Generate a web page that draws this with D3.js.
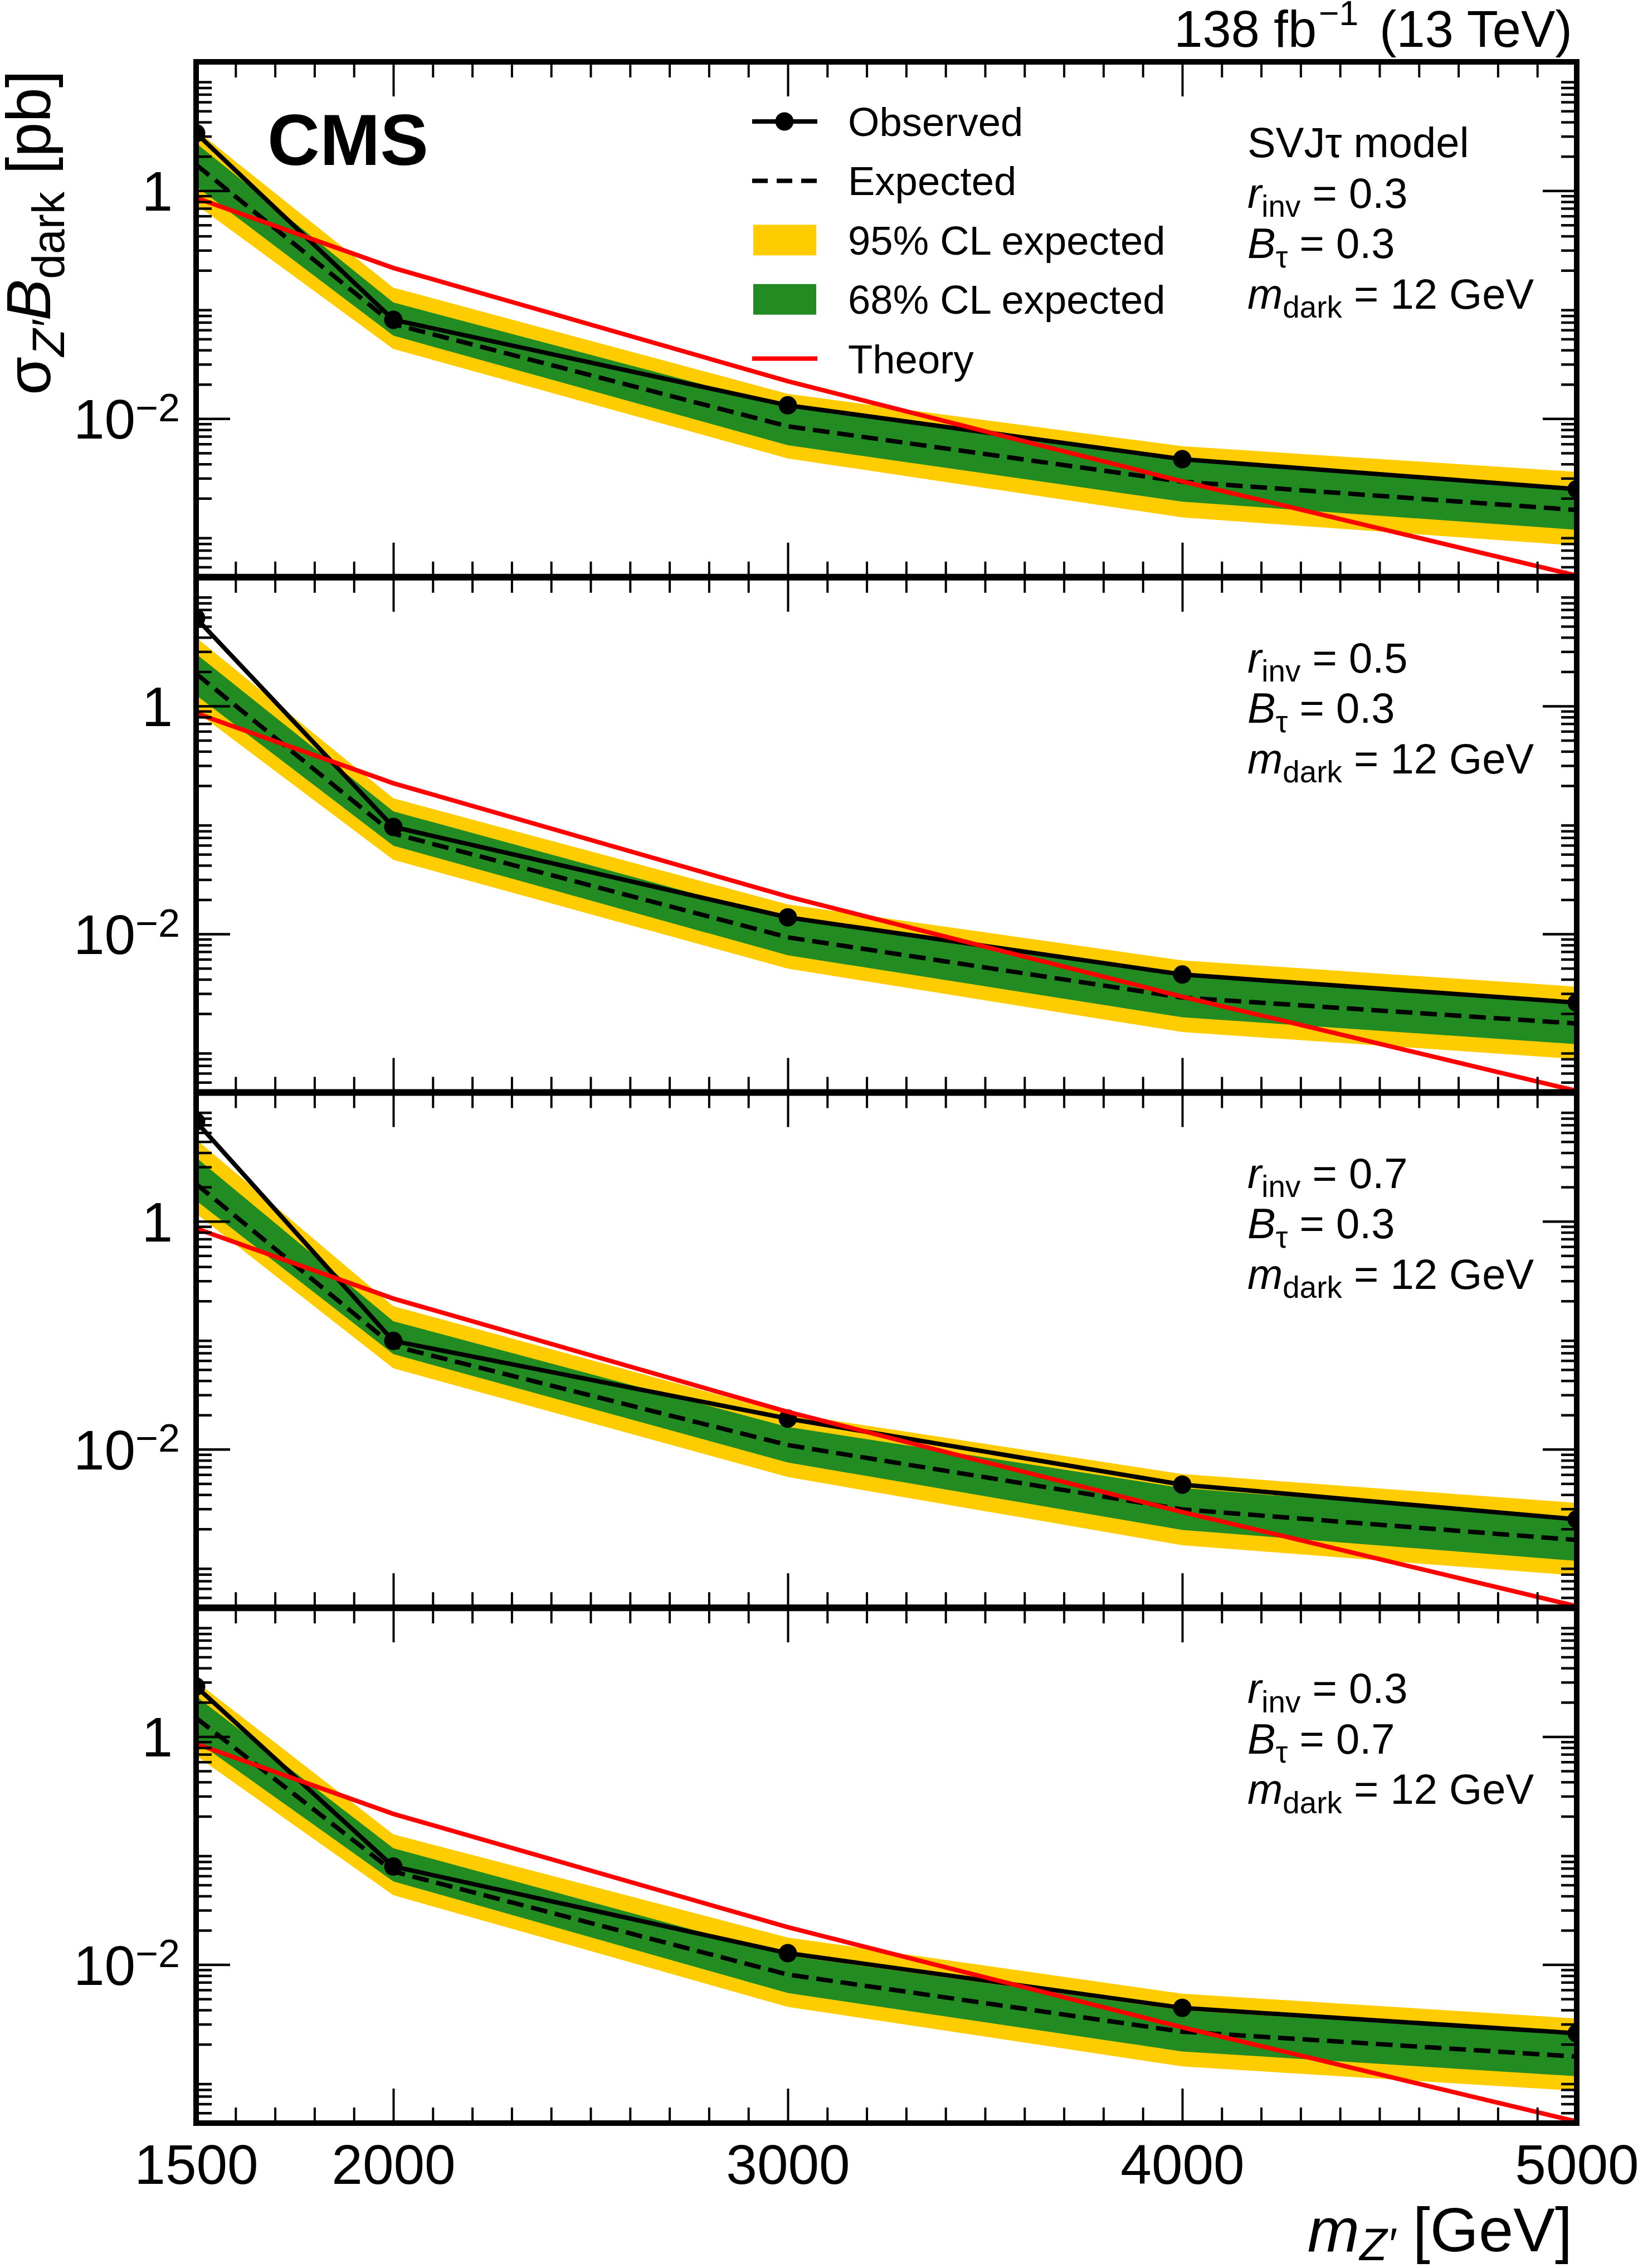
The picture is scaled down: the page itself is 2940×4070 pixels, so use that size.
<!DOCTYPE html>
<html>
<head>
<meta charset="utf-8">
<script src="https://cdn.jsdelivr.net/npm/d3@7"></script>
<style>
  body { margin: 0; background: #fff; }
  svg { display: block; }
</style>
</head>
<body>
<div id="chart"></div>
<script>
// Z' mass points [GeV]
const masses = [1500, 2000, 3000, 4000, 5000];

// theory cross section [pb], same curve in every panel
const theory = [0.865, 0.21, 0.0213, 0.00282, 0.00042];

// one row per panel, top to bottom
const observed = [
  [3.2, 0.0737, 0.0131, 0.00441, 0.00241],
  [5.9, 0.087, 0.014, 0.00441, 0.0025],
  [7.5, 0.0893, 0.0186, 0.0049, 0.00243],
  [2.75, 0.0726, 0.0126, 0.00417, 0.0025]
];
const expected = [
  [1.69, 0.0676, 0.00857, 0.0028, 0.00158],
  [1.92, 0.076, 0.00935, 0.00277, 0.00164],
  [2.13, 0.0807, 0.0109, 0.00297, 0.0016],
  [1.46, 0.0657, 0.00818, 0.00258, 0.00156]
];
const band68Lo = [
  [1.09, 0.0535, 0.00585, 0.00187, 0.00106],
  [1.245, 0.0595, 0.0065, 0.00186, 0.00108],
  [1.52, 0.0684, 0.00766, 0.00196, 0.00105],
  [0.917, 0.0537, 0.00563, 0.00173, 0.00105]
];
const band68Hi = [
  [2.61, 0.1045, 0.01265, 0.00424, 0.00245],
  [2.86, 0.119, 0.0135, 0.00427, 0.00247],
  [3.63, 0.133, 0.0157, 0.00458, 0.00243],
  [2.26, 0.105, 0.012, 0.00398, 0.00241]
];
const band95Lo = [
  [0.755, 0.0409, 0.00448, 0.00136, 0.00077],
  [0.893, 0.0447, 0.00497, 0.00138, 0.0008],
  [1.17, 0.0513, 0.00571, 0.00144, 0.00078],
  [0.679, 0.0406, 0.00426, 0.00128, 0.00078]
];
const band95Hi = [
  [3.41, 0.141, 0.0165, 0.00573, 0.00342],
  [3.99, 0.155, 0.0182, 0.00587, 0.00345],
  [5.23, 0.18, 0.0206, 0.00607, 0.00339],
  [3.05, 0.139, 0.0173, 0.00556, 0.00337]
];

const rinvValues = ["0.3", "0.5", "0.7", "0.3"];
const btauValues = ["0.3", "0.3", "0.3", "0.7"];
const mdarkValue = "12";

const xTickLabels = [1500, 2000, 3000, 4000, 5000];
const xMajorTicks = [2000, 3000, 4000];
const yTickLabels = [1, 0.01];
const legendLabels = ["Observed", "Expected", "95% CL expected", "68% CL expected", "Theory"];

const FONT = "'Liberation Sans', Arial, Helvetica, sans-serif";
const YELLOW = "#ffcc00", GREEN = "#228b22", RED = "#ff0000";

const width = 2940, height = 4070;
const plot = { left: 352, right: 2830, top: 111, bottom: 3810 };
const panelH = (plot.bottom - plot.top) / 4;
const yDomain = [4.07e-4, 13.5];

const svg = d3.select("#chart").append("svg")
  .attr("width", width)
  .attr("height", height)
  .style("background", "#fff");

const x = d3.scaleLinear().domain([1500, 5000]).range([plot.left, plot.right]);

// minor ticks: every 100 GeV on x, 2..9 per decade on y
const xMinor = d3.range(1600, 5000, 100).filter(v => !xMajorTicks.includes(v));
const yMinor = [];
for (let e = -4; e <= 1; e++) {
  for (let m = 2; m <= 9; m++) {
    const v = m * Math.pow(10, e);
    if (v > yDomain[0] && v < yDomain[1]) yMinor.push(v);
  }
}

// text with sub/superscripts built from tspans
function rich(sel, parts, size, subShift) {
  const sub = subShift || 0.22;
  let shift = 0;
  parts.forEach(p => {
    const target = p.sub ? sub * size : p.sup ? -0.42 * size : 0;
    const ts = sel.append("tspan")
      .attr("dy", target - shift)
      .attr("font-size", (p.sub || p.sup) ? size * (p.scale || 0.72) : size)
      .text(p.t);
    if (p.dx) ts.attr("dx", p.dx);
    if (p.it) ts.attr("font-style", "italic");
    shift = target;
  });
}

function styleTicks(g, w) {
  g.select(".domain").remove();
  g.selectAll(".tick line").attr("stroke", "#000").attr("stroke-width", w);
}

const defs = svg.append("defs");

for (let i = 0; i < 4; i++) {
  const y0 = plot.top + i * panelH, y1 = y0 + panelH;
  const y = d3.scaleLog().domain(yDomain).range([y1, y0]);

  defs.append("clipPath").attr("id", "clip" + i)
    .append("rect")
    .attr("x", plot.left).attr("y", y0)
    .attr("width", plot.right - plot.left).attr("height", panelH);

  const pts = masses.map((m, j) => ({
    m: m,
    obs: observed[i][j], exp: expected[i][j],
    lo68: band68Lo[i][j], hi68: band68Hi[i][j],
    lo95: band95Lo[i][j], hi95: band95Hi[i][j],
    th: theory[j]
  }));

  const g = svg.append("g").attr("clip-path", `url(#clip${i})`);

  g.append("path").datum(pts)
    .attr("fill", YELLOW)
    .attr("d", d3.area().x(d => x(d.m)).y0(d => y(d.lo95)).y1(d => y(d.hi95)));

  g.append("path").datum(pts)
    .attr("fill", GREEN)
    .attr("d", d3.area().x(d => x(d.m)).y0(d => y(d.lo68)).y1(d => y(d.hi68)));

  g.append("path").datum(pts)
    .attr("fill", "none").attr("stroke", "#000")
    .attr("stroke-width", 8).attr("stroke-dasharray", "30,14")
    .attr("d", d3.line().x(d => x(d.m)).y(d => y(d.exp)));

  g.append("path").datum(pts)
    .attr("fill", "none").attr("stroke", "#000").attr("stroke-width", 8)
    .attr("d", d3.line().x(d => x(d.m)).y(d => y(d.obs)));

  g.selectAll(".dot").data(pts).enter().append("circle")
    .attr("cx", d => x(d.m)).attr("cy", d => y(d.obs)).attr("r", 16.5)
    .attr("fill", "#000");

  g.append("path").datum(pts)
    .attr("fill", "none").attr("stroke", RED).attr("stroke-width", 8)
    .attr("d", d3.line().x(d => x(d.m)).y(d => y(d.th)));

  // ticks, all pointing inwards
  const ax = svg.append("g");
  ax.append("g").attr("transform", `translate(0,${y1})`)
    .call(d3.axisBottom(x).tickValues(xMinor).tickSize(-28).tickFormat(""))
    .call(s => styleTicks(s, 4));
  ax.append("g").attr("transform", `translate(0,${y1})`)
    .call(d3.axisBottom(x).tickValues(xMajorTicks).tickSize(-62).tickFormat(""))
    .call(s => styleTicks(s, 4));
  ax.append("g").attr("transform", `translate(0,${y0})`)
    .call(d3.axisTop(x).tickValues(xMinor).tickSize(-28).tickFormat(""))
    .call(s => styleTicks(s, 4));
  ax.append("g").attr("transform", `translate(0,${y0})`)
    .call(d3.axisTop(x).tickValues(xMajorTicks).tickSize(-62).tickFormat(""))
    .call(s => styleTicks(s, 4));

  ax.append("g").attr("transform", `translate(${plot.left},0)`)
    .call(d3.axisLeft(y).tickValues(yMinor).tickSize(-28).tickFormat(""))
    .call(s => styleTicks(s, 4.5));
  ax.append("g").attr("transform", `translate(${plot.right},0)`)
    .call(d3.axisRight(y).tickValues(yMinor).tickSize(-28).tickFormat(""))
    .call(s => styleTicks(s, 4.5));
  ax.append("g").attr("transform", `translate(${plot.right},0)`)
    .call(d3.axisRight(y).tickValues(yTickLabels).tickSize(-61).tickFormat(""))
    .call(s => styleTicks(s, 4.5));

  // left major ticks carry the labels
  const yl = ax.append("g").attr("transform", `translate(${plot.left},0)`)
    .call(d3.axisLeft(y).tickValues(yTickLabels).tickSize(-61).tickPadding(42)
      .tickFormat(d => d === 1 ? "1" : "10"))
    .call(s => styleTicks(s, 4.5));
  yl.attr("font-size", 100).attr("font-family", FONT);
  yl.selectAll(".tick text")
    .attr("fill", "#000")
    .attr("dy", "0.355em")
    .each(function (d) {
      if (d !== 1) {
        const e = Math.round(Math.log10(d));
        d3.select(this).attr("x", -29)
          .append("tspan").attr("dy", "-0.45em").attr("font-size", "70%")
          .text("\u2212" + Math.abs(e));
      }
    });

  // model parameters
  const lines = [];
  if (i === 0) lines.push([{ t: "SVJ\u03c4 model" }]);
  lines.push([{ t: "r", it: true }, { t: "inv", sub: true }, { t: " = " + rinvValues[i] }]);
  lines.push([{ t: "B", it: true }, { t: "\u03c4", sub: true }, { t: " = " + btauValues[i] }]);
  lines.push([{ t: "m", it: true }, { t: "dark", sub: true }, { t: " = " + mdarkValue + " GeV" }]);
  lines.forEach((parts, k) => {
    const t = svg.append("text")
      .attr("x", 2239).attr("y", y0 + 171 + k * 90.5)
      .attr("font-family", FONT).attr("fill", "#000");
    rich(t, parts, 76);
  });
}

// frame and panel separators
svg.append("rect")
  .attr("x", plot.left).attr("y", plot.top)
  .attr("width", plot.right - plot.left).attr("height", plot.bottom - plot.top)
  .attr("fill", "none").attr("stroke", "#000").attr("stroke-width", 10);
for (let i = 1; i < 4; i++) {
  svg.append("line")
    .attr("x1", plot.left).attr("x2", plot.right)
    .attr("y1", plot.top + i * panelH).attr("y2", plot.top + i * panelH)
    .attr("stroke", "#000").attr("stroke-width", 12);
}

// x tick labels
const xl = svg.append("g").attr("transform", `translate(0,${plot.bottom})`)
  .call(d3.axisBottom(x).tickValues(xTickLabels).tickSize(0).tickPadding(38)
    .tickFormat(d3.format("d")));
xl.select(".domain").remove();
xl.attr("font-size", 100).attr("font-family", FONT);
xl.selectAll(".tick text").attr("fill", "#000");

// axis titles
const xt = svg.append("text")
  .attr("x", 2822).attr("y", 4040)
  .attr("text-anchor", "end").attr("font-family", FONT).attr("fill", "#000");
rich(xt, [{ t: "m", it: true }, { t: "Z\u2032", it: true, sub: true }, { t: " [GeV]" }], 112, 0.14);

const yt = svg.append("text")
  .attr("transform", "translate(90,126) rotate(-90)")
  .attr("text-anchor", "end").attr("font-family", FONT).attr("fill", "#000");
rich(yt, [
  { t: "\u03c3" }, { t: "Z\u2032", it: true, sub: true },
  { t: "B", it: true }, { t: "dark", sub: true }, { t: " [pb]" }
], 112);

// CMS and luminosity labels
svg.append("text")
  .attr("x", 480).attr("y", 296)
  .attr("font-family", FONT).attr("font-weight", "bold").attr("font-size", 130)
  .attr("fill", "#000").text("CMS");

const lumi = svg.append("text")
  .attr("x", 2822).attr("y", 84)
  .attr("text-anchor", "end").attr("font-family", FONT).attr("fill", "#000");
rich(lumi, [
  { t: "138 fb" }, { t: "\u22121", sup: true, scale: 0.68, dx: 4 }, { t: " (13 TeV)", dx: 12 }
], 92);

// legend
const leg = svg.append("g");
legendLabels.forEach((label, k) => {
  const cy = 218 + k * 106.4;
  if (k === 0) {
    leg.append("line").attr("x1", 1350).attr("x2", 1467).attr("y1", cy).attr("y2", cy)
      .attr("stroke", "#000").attr("stroke-width", 8);
    leg.append("circle").attr("cx", 1408).attr("cy", cy).attr("r", 16.5).attr("fill", "#000");
  } else if (k === 1) {
    leg.append("line").attr("x1", 1350).attr("x2", 1467).attr("y1", cy).attr("y2", cy)
      .attr("stroke", "#000").attr("stroke-width", 8).attr("stroke-dasharray", "28,16");
  } else if (k === 2 || k === 3) {
    leg.append("rect").attr("x", 1352).attr("y", cy - 27.5).attr("width", 113).attr("height", 55)
      .attr("fill", k === 2 ? YELLOW : GREEN);
  } else {
    leg.append("line").attr("x1", 1350).attr("x2", 1467).attr("y1", cy).attr("y2", cy)
      .attr("stroke", RED).attr("stroke-width", 8);
  }
  leg.append("text")
    .attr("x", 1522).attr("y", cy + 26)
    .attr("font-family", FONT).attr("font-size", 72.5).attr("fill", "#000")
    .text(label);
});
</script>
</body>
</html>
